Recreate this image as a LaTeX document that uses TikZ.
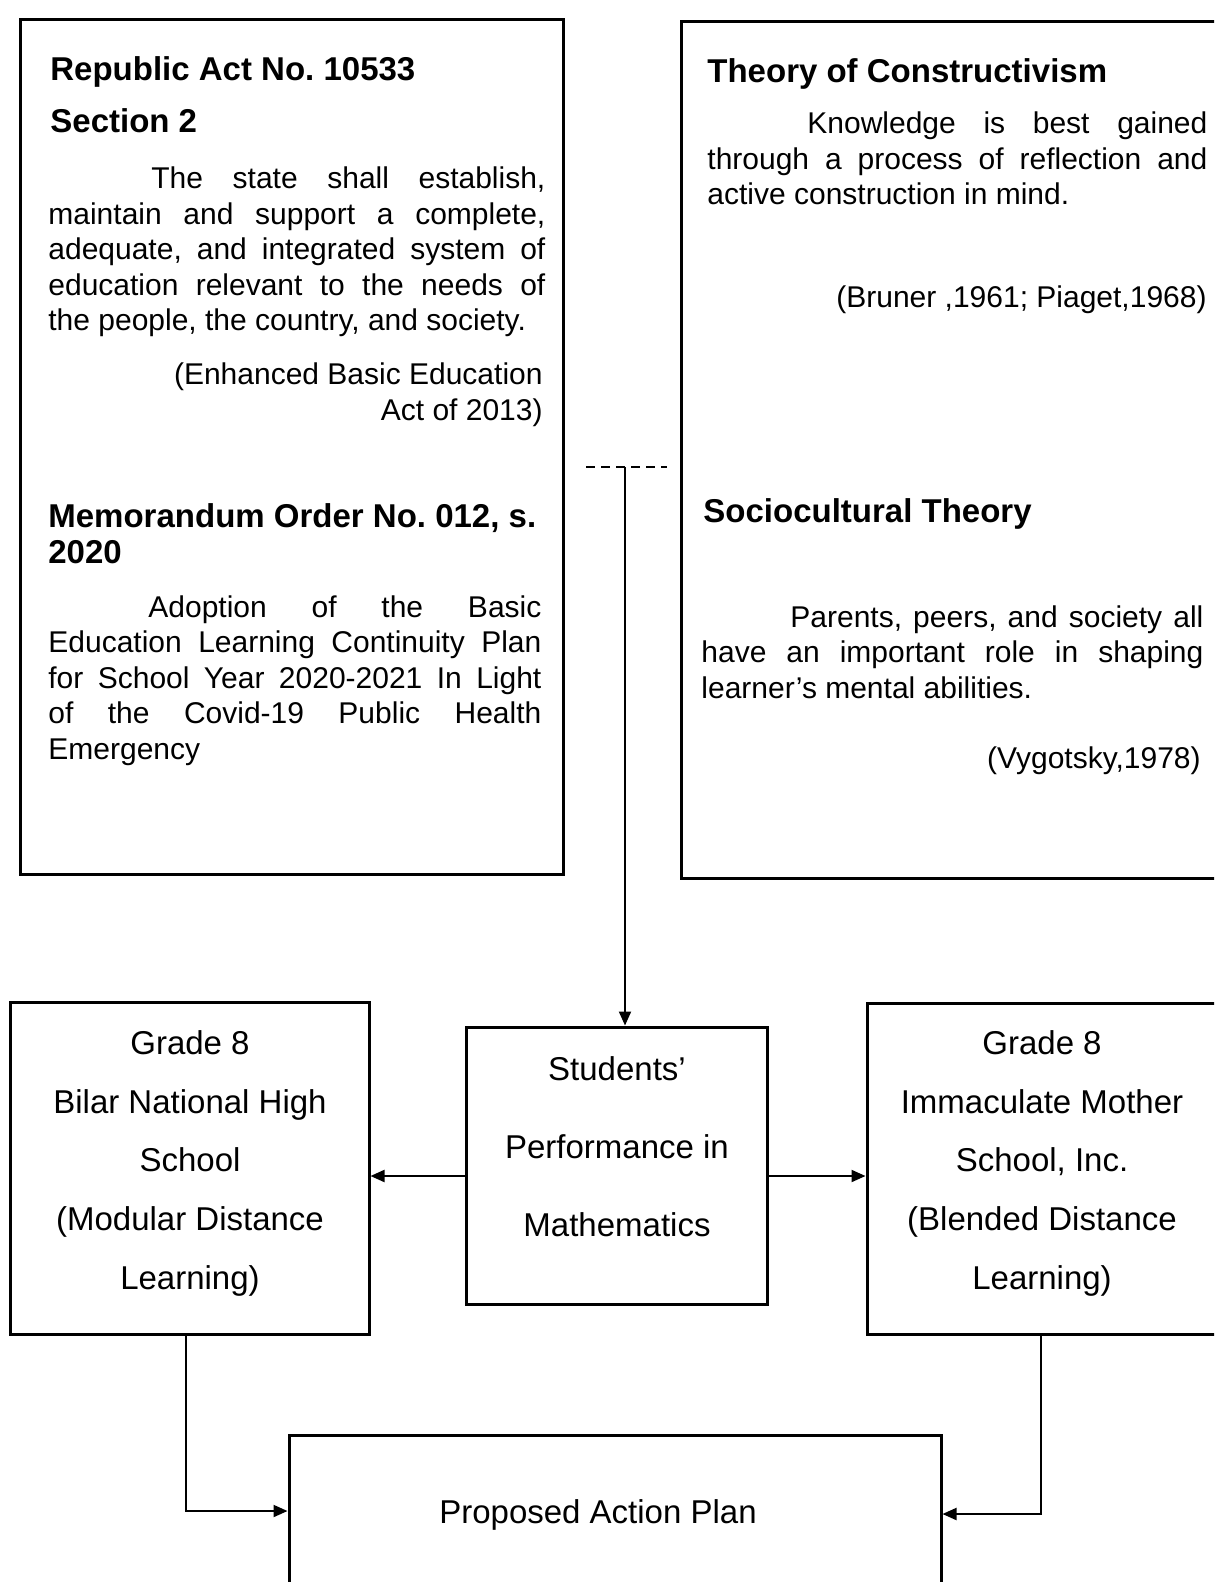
\documentclass[tikz,border=0pt]{standalone}
\usepackage{fontspec}
\setmainfont{Liberation Sans}
\usetikzlibrary{arrows.meta}
\frenchspacing
\newcommand{\jl}[1]{\noindent\makebox[\hsize][s]{#1}\par}
\begin{document}
\begin{tikzpicture}[x=0.5pt,y=-0.5pt,
  box/.style={draw,line width=1.5pt,inner sep=0pt},
  para/.style={inner sep=0pt,anchor=base west,align=justify,font=\fontsize{15pt}{17.75pt}\selectfont},
  head/.style={inner sep=0pt,anchor=base west,align=left,font=\fontsize{16.5pt}{18pt}\selectfont\bfseries},
  cite/.style={inner sep=0pt,anchor=base east,align=right,font=\fontsize{15pt}{18.25pt}\selectfont},
  mid/.style={inner sep=0pt,anchor=base,align=center,font=\fontsize{16.5pt}{29.3pt}\selectfont},
  conn/.style={line width=1pt},
  arr/.style={conn,-{Triangle[length=7pt,width=6pt]}},
]
\useasboundingbox (0,0) rectangle (1214,1582);
\fill[white] (0,0) rectangle (1214,1582);
\clip (0,0) rectangle (1214,1582);

% boxes
\node[box,minimum width=271.5pt,minimum height=427pt] (ra) at (291.5,447) {};
\node[box,minimum width=289.5pt,minimum height=428pt] (th) at (970.5,450) {};
\node[box,minimum width=150.5pt,minimum height=138.5pt] (stud) at (616.5,1165.5) {};
\node[box,minimum width=179.5pt,minimum height=166pt] (bilar) at (189.5,1168) {};
\node[box,minimum width=196.5pt,minimum height=165.5pt] (imm) at (1063.5,1168.5) {};
\node[box,minimum width=326pt,minimum height=107.5pt] (plan) at (615,1542.5) {};

% left top box texts
\node[head] (h1) at (50,81) {Republic Act No. 10533};
\node[head] (h2) at (50,133) {Section 2};
\node[para,text width=248.5pt] (p1) at (48,189) {\jl{\hspace*{51.5pt}The state shall establish,}\jl{maintain and support a complete,}\jl{adequate, and integrated system of}\jl{education relevant to the needs of}\noindent the people, the country, and society.};
\node[cite] (c1) at (543,421) {(Enhanced Basic Education\\Act of 2013)};
\node[head] (h3) at (48,563) {Memorandum Order No. 012, s.\\2020};
\node[para,text width=246.5pt] (p2) at (48,617) {\jl{\hspace*{50pt}Adoption of the Basic}\jl{Education Learning Continuity Plan}\jl{for School Year 2020-2021 In Light}\jl{of the Covid-19 Public Health}\noindent Emergency};

% right top box texts
\node[head] (h4) at (707,83) {Theory of Constructivism};
\node[para,text width=250pt] (p3) at (707,134) {\jl{\hspace*{50pt}Knowledge is best gained}\jl{through a process of reflection and}\noindent active construction in mind.};
\node[cite] (c2) at (1207,308) {(Bruner ,1961; Piaget,1968)};
\node[head] (h5) at (703,523) {Sociocultural Theory};
\node[para,text width=251pt] (p4) at (701,627) {\jl{\hspace*{44.5pt}Parents, peers, and society all}\jl{have an important role in shaping}\noindent learner’s mental abilities.};
\node[cite] (c3) at (1201,768) {(Vygotsky,1978)};

% middle and bottom texts (base = last line)
\node[mid] (bilarT) at (190,1289) {Grade 8\\Bilar National High\\School\\(Modular Distance\\Learning)};
\node[mid] (immT) at (1042,1289) {Grade 8\\Immaculate Mother\\School, Inc.\\(Blended Distance\\Learning)};
\node[mid,font=\fontsize{16.5pt}{39pt}\selectfont] (studT) at (617,1236) {Students’\\Performance in\\Mathematics};
\node[mid] (planT) at (598,1523) {Proposed Action Plan};

% connectors
\coordinate (dl) at (586,467);
\coordinate (dr) at (667,467);
\coordinate (dj) at (625,467);
\draw[line width=1.2pt,dash pattern=on 4.5pt off 3pt] (dl) -- (dr);
\draw[arr] (dj) -- (dj |- stud.north);
\coordinate (ya) at (0,1176);
\draw[arr] (stud.west |- ya) -- (bilar.east |- ya);
\draw[arr] (stud.east |- ya) -- (imm.west |- ya);
\coordinate (lb) at (186,0);
\coordinate (yl) at (0,1511);
\draw[arr] (lb |- bilar.south) -- (lb |- yl) -- (plan.west |- yl);
\coordinate (rb) at (1041,0);
\coordinate (yr) at (0,1514);
\draw[arr] (rb |- imm.south) -- (rb |- yr) -- (plan.east |- yr);
\end{tikzpicture}
\end{document}
